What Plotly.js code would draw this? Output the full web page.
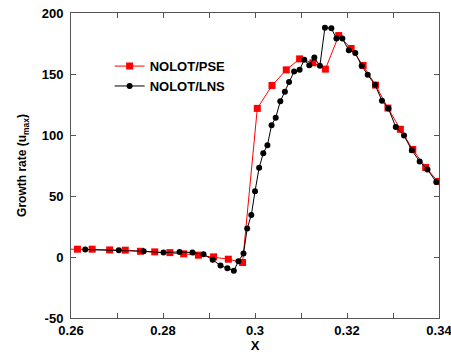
<!DOCTYPE html>
<html>
<head>
<meta charset="utf-8">
<script src="https://cdn.plot.ly/plotly-3.0.1.min.js"></script>
<style>
html,body{margin:0;padding:0;background:#fff;}
#chart{width:451px;height:354px;}
</style>
</head>
<body>
<div id="chart"></div>
<script>
// NOLOT/PSE series
const pseX = [0.2585, 0.2614, 0.2646, 0.2684, 0.2718, 0.2751, 0.2782, 0.2815, 0.2845, 0.2877, 0.2910, 0.2942, 0.2973, 0.3005, 0.3037, 0.3068, 0.3097, 0.3126, 0.3153, 0.3182, 0.3209, 0.3235, 0.3262, 0.3289, 0.3316, 0.3343, 0.3371, 0.3398];
const pseY = [6.5, 6.4, 6.4, 5.8, 5.6, 4.7, 4.2, 3.6, 2.6, 1.5, 0.1, -1.8, -4.5, 121.8, 140.6, 153.4, 162.4, 159.2, 154.0, 181.5, 170.9, 157.0, 140.9, 122.1, 104.7, 88.1, 73.4, 61.9];
// NOLOT/LNS series
const lnsX = [0.2631, 0.2704, 0.2758, 0.2801, 0.2836, 0.2864, 0.2888, 0.2908, 0.2925, 0.2940, 0.2954, 0.2964, 0.2975, 0.2983, 0.2992, 0.3000, 0.3009, 0.3018, 0.3027, 0.3036, 0.3045, 0.3055, 0.3065, 0.3074, 0.3085, 0.3097, 0.3107, 0.3118, 0.3129, 0.3141, 0.3152, 0.3166, 0.3177, 0.3190, 0.3204, 0.3218, 0.3232, 0.3245, 0.3261, 0.3276, 0.3290, 0.3306, 0.3324, 0.3341, 0.3358, 0.3375, 0.3394];
const lnsY = [6.1, 5.6, 4.7, 3.6, 4.2, 3.6, 2.3, -2.3, -7.0, -9.2, -11.3, -3.4, 2.8, 23.3, 34.4, 53.8, 73.1, 85.1, 91.6, 108.0, 114.2, 127.6, 135.5, 143.4, 152.1, 153.4, 161.6, 157.2, 163.5, 156.7, 188.0, 187.5, 179.0, 179.0, 169.5, 167.3, 156.7, 149.3, 141.2, 128.1, 121.8, 106.6, 99.5, 87.5, 78.3, 71.7, 61.4];

const seriesNames = ["NOLOT/PSE", "NOLOT/LNS"];
const xTickVals = [0.26, 0.28, 0.30, 0.32, 0.34];
const xTickText = ["0.26", "0.28", "0.3", "0.32", "0.34"];
const xMinorVals = [0.27, 0.29, 0.31, 0.33];
const yTickVals = [-50, 0, 50, 100, 150, 200];
const yTickText = ["-50", "0", "50", "100", "150", "200"];

const font = "Liberation Sans, Arial, Helvetica, sans-serif";
const axisColor = "#555555";

const traces = [
  {
    x: pseX, y: pseY, name: seriesNames[0], type: "scatter", mode: "lines+markers",
    line: {color: "#ff0000", width: 1},
    marker: {symbol: "square", size: 7, color: "#ff0000"}
  },
  {
    x: lnsX, y: lnsY, name: seriesNames[1], type: "scatter", mode: "lines+markers",
    line: {color: "#000000", width: 1},
    marker: {symbol: "circle", size: 6, color: "#000000"}
  }
];

const axisCommon = {
  showline: true, linecolor: axisColor, linewidth: 1, mirror: "ticks",
  ticks: "inside", ticklen: 5, tickcolor: axisColor, tickwidth: 1,
  showgrid: false, zeroline: false,
  ticklabeloverflow: "allow",
  tickfont: {family: font, size: 13, color: "#000", weight: "bold"}
};

const layout = {
  width: 451, height: 354,
  margin: {l: 71, r: 12, t: 13, b: 36},
  paper_bgcolor: "#fff", plot_bgcolor: "#fff",
  showlegend: true,
  legend: {
    x: 0.105, y: 0.875, xanchor: "left", yanchor: "top",
    bgcolor: "rgba(0,0,0,0)", borderwidth: 0,
    font: {family: font, size: 13, color: "#000", weight: "bold"}
  },
  xaxis: Object.assign({}, axisCommon, {
    range: [0.2599999, 0.3400001], tickmode: "array", tickvals: xTickVals, ticktext: xTickText,
    minor: {tickmode: "array", tickvals: xMinorVals, ticks: "inside", ticklen: 5, tickcolor: axisColor, tickwidth: 1, showgrid: false},
    title: {text: "X", font: {family: font, size: 13, color: "#000", weight: "bold"}, standoff: 2}
  }),
  yaxis: Object.assign({}, axisCommon, {
    range: [-50, 200], tickmode: "array", tickvals: yTickVals, ticktext: yTickText,
    ticklabelstandoff: 4,
    title: {text: "Growth rate (u<sub>max</sub>)", font: {family: font, size: 12, color: "#000", weight: "bold"}, standoff: 12}
  })
};

Plotly.newPlot("chart", traces, layout, {displayModeBar: false, staticPlot: true});
</script>
</body>
</html>
